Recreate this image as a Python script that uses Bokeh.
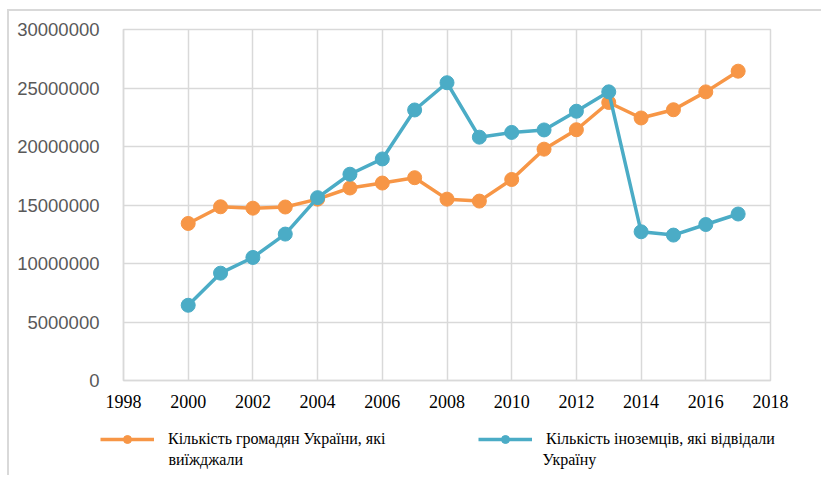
from bokeh.plotting import figure
from bokeh.layouts import column
from bokeh.models import (FixedTicker, PrintfTickFormatter, Legend, LegendItem,
                          Range1d, Label)
from bokeh.embed import file_html
from bokeh.resources import INLINE

years = [2000, 2001, 2002, 2003, 2004, 2005, 2006, 2007, 2008, 2009,
         2010, 2011, 2012, 2013, 2014, 2015, 2016, 2017]
citizens = [13422000, 14849000, 14729000, 14829000, 15502000, 16454000,
            16876000, 17334000, 15500000, 15334000, 17180000, 19773000,
            21433000, 23761000, 22438000, 23142000, 24668000, 26437000]
foreigners = [6431000, 9174000, 10517000, 12514000, 15629000, 17631000,
              18936000, 23122000, 25449000, 20798000, 21203000, 21415000,
              23013000, 24671000, 12712000, 12428000, 13333000, 14230000]
x_ticks = list(range(1998, 2019, 2))
y_ticks = [0, 5000000, 10000000, 15000000, 20000000, 25000000, 30000000]
label_citizens = ["Кількість громадян України, які", "виїжджали"]
label_foreigners = ["Кількість іноземців, які відвідали", "Україну"]

ORANGE = "#F79646"
BLUE = "#4BACC6"
GRID = "#D9D9D9"

p = figure(width=812, height=404, output_backend="svg", toolbar_location=None,
           x_range=Range1d(1998, 2018), y_range=Range1d(0, 30000000),
           min_border_left=114, min_border_top=18, min_border_right=51,
           min_border_bottom=35)

p.outline_line_color = GRID
p.outline_line_width = 1.5
p.xgrid.grid_line_color = GRID
p.ygrid.grid_line_color = GRID
p.xgrid.grid_line_width = 1.5
p.ygrid.grid_line_width = 1.5

p.xaxis.ticker = FixedTicker(ticks=x_ticks)
p.yaxis.ticker = FixedTicker(ticks=y_ticks)
p.yaxis.formatter = PrintfTickFormatter(format="%d")
for ax in (p.xaxis, p.yaxis):
    ax.axis_line_color = GRID
    ax.axis_line_width = 1.5
    ax.major_tick_line_color = None
    ax.minor_tick_line_color = None
p.yaxis.major_label_text_font = "Liberation Sans"
p.yaxis.major_label_text_font_size = "18.5px"
p.yaxis.major_label_text_color = "#595959"
p.yaxis.major_label_standoff = 18
p.xaxis.major_label_text_font = "Liberation Serif"
p.xaxis.major_label_text_font_size = "18px"
p.xaxis.major_label_text_color = "#000000"
p.xaxis.major_label_standoff = 8

p.line(years, citizens, line_color=ORANGE, line_width=3.5)
p.scatter(years, citizens, size=14, fill_color=ORANGE, line_color=ORANGE)
p.line(years, foreigners, line_color=BLUE, line_width=3.5)
p.scatter(years, foreigners, size=14, fill_color=BLUE, line_color=BLUE)

# legend strip below the chart
q = figure(width=812, height=60, output_backend="svg", toolbar_location=None,
           x_range=Range1d(0, 1), y_range=Range1d(0, 1),
           min_border_left=0, min_border_right=0, min_border_top=0, min_border_bottom=0)
q.frame_align = False
q.axis.visible = False
q.grid.visible = False
q.outline_line_color = None
ql1 = q.line([-5, -4], [-5, -4], line_color=ORANGE, line_width=3.5)
qs1 = q.scatter([-5], [-5], fill_color=ORANGE, line_color=ORANGE)
ql2 = q.line([-5, -4], [-5, -4], line_color=BLUE, line_width=3.5)
qs2 = q.scatter([-5], [-5], fill_color=BLUE, line_color=BLUE)

lg = Legend(items=[LegendItem(label=label_citizens[0], renderers=[ql1, qs1]),
                   LegendItem(label=label_foreigners[0], renderers=[ql2, qs2])],
            location=(91, 26), orientation="horizontal")
lg.padding = 0
lg.margin = 0
lg.spacing = 0
lg.glyph_width = 54
lg.glyph_height = 20
lg.label_standoff = 14
lg.label_width = 310
lg.border_line_color = None
lg.background_fill_alpha = 0
lg.label_text_font = "Liberation Serif"
lg.label_text_font_size = "16px"
lg.label_text_color = "#000000"
lg.label_text_line_height = 1.25
q.add_layout(lg)

for txt, xs in ((label_citizens[1], 159), (label_foreigners[1], 533)):
    q.add_layout(Label(x=xs, y=16, x_units="screen", y_units="screen", text=txt,
                       text_font="Liberation Serif", text_font_size="16px",
                       text_color="#000000", text_align="left",
                       text_baseline="middle"))

layout = column(p, q, spacing=0)
layout.styles = {"border-left": "2px solid #D9D9D9", "border-top": "2px solid #D9D9D9",
                 "margin-left": "7px", "margin-top": "9px"}

open("out.html", "w").write(file_html(layout, INLINE))
